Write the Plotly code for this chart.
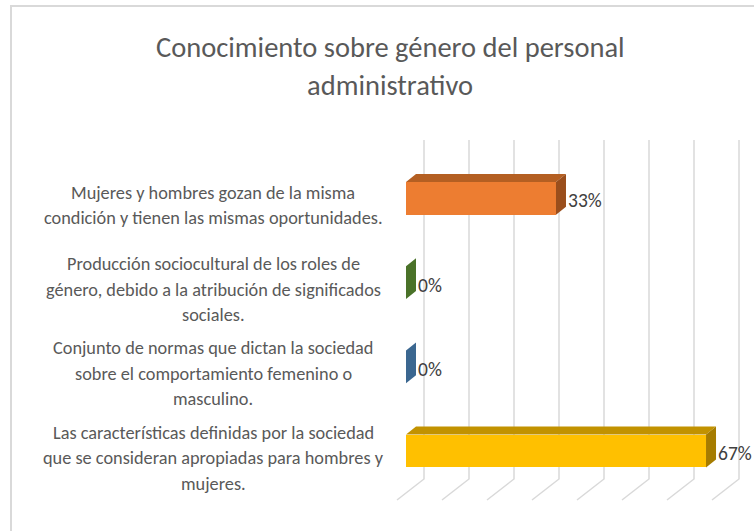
import plotly.graph_objects as go

# ---------------- data ----------------
categories = [
    ["Las características definidas por la sociedad",
     "que se consideran apropiadas para hombres y",
     "mujeres."],
    ["Conjunto de normas que dictan la sociedad",
     "sobre el comportamiento femenino o",
     "masculino."],
    ["Producción sociocultural de los roles de",
     "género, debido a la atribución de significados",
     "sociales."],
    ["Mujeres y hombres gozan de la misma",
     "condición y tienen las mismas oportunidades."],
]
values = [0.6667, 0.0, 0.0, 0.3333]
value_labels = ["67%", "0%", "0%", "33%"]
front_colors = ["#FFC000", "#5B9BD5", "#70AD47", "#ED7D31"]
top_colors = ["#C29200", "#45769F", "#557F36", "#B45F22"]
side_colors = ["#A67C00", "#3B6790", "#4A7229", "#9A4E1C"]
grid_ticks = [0.0, 0.1, 0.2, 0.3, 0.4, 0.5, 0.6, 0.7]
title_lines = ["Conocimiento sobre género del personal", "administrativo"]

# ---------------- geometry (axis units) ----------------
W, H = 754, 531
PX_PER_X = 450.0      # pixels per 1.0 (100%)
X0_PX = 406.0         # pixel of value 0 on front plane
PX_PER_CAT = 84.2
Y0_PX = 451.0         # pixel (from top) of first category centre
x_range = [-X0_PX / PX_PER_X, (W - X0_PX) / PX_PER_X]
y_range = [(Y0_PX - H) / PX_PER_CAT, Y0_PX / PX_PER_CAT]

BAR_H = 0.39
DX = 10 / PX_PER_X
DY = 8 / PX_PER_CAT
WALL_DX = 18 / PX_PER_X
WALL_TOP = (Y0_PX - 140) / PX_PER_CAT
FLOOR_BACK = (Y0_PX - 479) / PX_PER_CAT
FLOOR_DX = -27 / PX_PER_X
FLOOR_FRONT = (Y0_PX - 500) / PX_PER_CAT

fig = go.Figure()

# gridlines on back wall + floor (drawn below the bars)
shapes = []
for t in grid_ticks:
    xb = t + WALL_DX
    shapes.append(dict(type="path", xref="x", yref="y", layer="below",
                       path=f"M {xb},{WALL_TOP} L {xb},{FLOOR_BACK} L {xb + FLOOR_DX},{FLOOR_FRONT}",
                       line=dict(color="#D9D9D9", width=1.5)))

ypos = list(range(len(values)))

# bars: front face
fig.add_trace(go.Bar(x=values, y=ypos, orientation="h", width=BAR_H,
                     marker=dict(color=front_colors, line=dict(width=0)),
                     showlegend=False, hoverinfo="skip"))

# 3D faces: top + side
for i, v in enumerate(values):
    yb, yt = i - BAR_H / 2, i + BAR_H / 2
    if v > 0:
        fig.add_trace(go.Scatter(
            x=[0, v, v + DX, DX, 0], y=[yt, yt, yt + DY, yt + DY, yt],
            fill="toself", fillcolor=top_colors[i], mode="lines",
            line=dict(width=0, color=top_colors[i]),
            hoverinfo="skip", showlegend=False))
    fig.add_trace(go.Scatter(
        x=[v, v, v + DX, v + DX, v], y=[yb, yt, yt + DY, yb + DY, yb],
        fill="toself", fillcolor=side_colors[i], mode="lines",
        line=dict(width=0, color=side_colors[i]),
        hoverinfo="skip", showlegend=False))

FONT = "Carlito, Lato, sans-serif"
annotations = []
# value labels
for i, (v, lab) in enumerate(zip(values, value_labels)):
    annotations.append(dict(x=v + DX, y=i, xref="x", yref="y", text=lab,
                            showarrow=False, xanchor="left", yanchor="middle",
                            xshift=0, yshift=-2,
                            font=dict(family=FONT, size=19.5, color="#404040")))
# category labels (centered multi-line)
LINE_H = 25.5
for i, lines in enumerate(categories):
    n = len(lines)
    for j, line in enumerate(lines):
        annotations.append(dict(
            x=213 / W, y=i, xref="paper", yref="y", text=line,
            showarrow=False, xanchor="center", yanchor="middle",
            yshift=-7 + ((n - 1) / 2 - j) * LINE_H,
            font=dict(family=FONT, size=18.3, color="#595959")))
# title
for j, line in enumerate(title_lines):
    annotations.append(dict(
        x=390 / W, y=1 - (47 + 38 * j) / H, xref="paper", yref="paper",
        text=line, showarrow=False, xanchor="center", yanchor="middle",
        font=dict(family=FONT, size=28.5, color="#595959")))

shapes.append(dict(type="rect", xref="paper", yref="paper",
                   x0=11 / W, y0=-0.05, x1=1.05, y1=1 - 6 / H,
                   line=dict(color="#D9D9D9", width=2), layer="below"))

fig.update_layout(
    width=W, height=H,
    margin=dict(l=0, r=0, t=0, b=0),
    paper_bgcolor="white", plot_bgcolor="white",
    xaxis=dict(range=x_range, visible=False, fixedrange=True),
    yaxis=dict(range=y_range, visible=False, fixedrange=True),
    annotations=annotations,
    shapes=shapes,
    bargap=0,
)

fig.write_html("out.html", config={"displayModeBar": False},
               post_script="document.body.style.margin='0';document.body.style.padding='0';")
